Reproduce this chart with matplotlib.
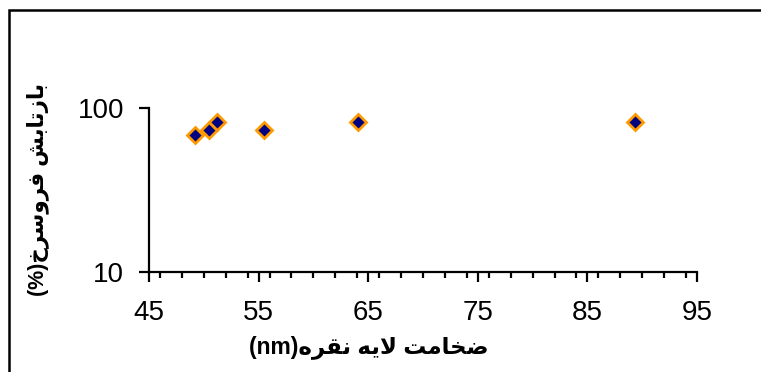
import matplotlib
matplotlib.use("Agg")
import matplotlib.pyplot as plt
from matplotlib.patches import Rectangle
from matplotlib.ticker import MultipleLocator, FixedLocator, NullLocator

# silver layer thickness (nm) vs infrared reflectance (%)
thickness = [49.2, 50.5, 51.2, 55.5, 64.1, 89.3]
reflectance = [69, 74, 82, 74, 82, 82]
x_ticks = [45, 55, 65, 75, 85, 95]
y_ticks = [10, 100]

xlabel_fa = "ضخامت لایه نقره"
ylabel_fa = "بازتابش فروسرخ"

# presentation form base codepoint, and whether the letter joins to the next one
FORMS = {
    "ا": (0xFE8D, False), "ب": (0xFE8F, True), "ت": (0xFE95, True),
    "خ": (0xFEA5, True), "ر": (0xFEAD, False), "ز": (0xFEAF, False),
    "س": (0xFEB1, True), "ش": (0xFEB5, True), "ض": (0xFEBD, True),
    "ف": (0xFED1, True), "ق": (0xFED5, True), "ل": (0xFEDD, True),
    "م": (0xFEE1, True), "ن": (0xFEE5, True), "ه": (0xFEE9, True),
    "و": (0xFEED, False), "ی": (0xFEF1, True),
}


def shape(s):
    # no text shaping in matplotlib, so pick the joined glyphs by hand
    out = []
    for i, c in enumerate(s):
        if c not in FORMS:
            out.append(c)
            continue
        prev = s[i - 1] if i > 0 else ""
        nxt = s[i + 1] if i + 1 < len(s) else ""
        if c == "ا" and prev == "ل":
            continue
        p = prev in FORMS and FORMS[prev][1]
        if c == "ل" and nxt == "ا":
            out.append(chr(0xFEFC if p else 0xFEFB))
            continue
        n = FORMS[c][1] and nxt in FORMS
        form = 3 if (p and n) else 1 if p else 2 if n else 0
        out.append(chr(FORMS[c][0] + form))
    return "".join(reversed(out))


plt.rcParams["font.family"] = ["Liberation Sans", "DejaVu Sans"]

fig = plt.figure(figsize=(7.61, 3.72), dpi=100)
ax = fig.add_axes([0.1958, 0.2675, 0.7201, 0.4414])

ax.plot(thickness, reflectance, linestyle="none", marker="D", markersize=8.5,
        markerfacecolor="#000080", markeredgecolor="#FF9900", markeredgewidth=2)

ax.set_yscale("log")
ax.set_xlim(45, 95)
ax.set_ylim(10, 100)
ax.xaxis.set_major_locator(FixedLocator(x_ticks))
ax.xaxis.set_minor_locator(MultipleLocator(2))
ax.yaxis.set_major_locator(FixedLocator(y_ticks))
ax.yaxis.set_minor_locator(NullLocator())
ax.set_yticklabels([str(v) for v in y_ticks])

for side in ["top", "right"]:
    ax.spines[side].set_visible(False)
for side in ["left", "bottom"]:
    ax.spines[side].set_linewidth(1.6)

ax.tick_params(which="major", direction="out", length=7, width=1.6,
               labelsize=20)
ax.tick_params(which="minor", direction="out", length=4, width=1.6)
ax.tick_params(axis="x", which="major", pad=13)
ax.tick_params(axis="y", which="major", pad=11)

fig.text(369 / 761, 1 - 347 / 372, "(nm)" + shape(xlabel_fa), ha="center",
         va="center", fontsize=16.5, fontweight="bold")
fig.text(38 / 761, 1 - 190 / 372, "(%)" + shape(ylabel_fa), ha="center",
         va="center", rotation=90, fontsize=15.5, fontweight="bold")

# chart border, cut off at right and bottom in the original
fig.patches.append(Rectangle((9 / 761, -0.1), 1.2, 1.1 - 10 / 372,
                             transform=fig.transFigure, fill=False,
                             edgecolor="black", linewidth=1.8))

fig.savefig("out.png", dpi=100)
